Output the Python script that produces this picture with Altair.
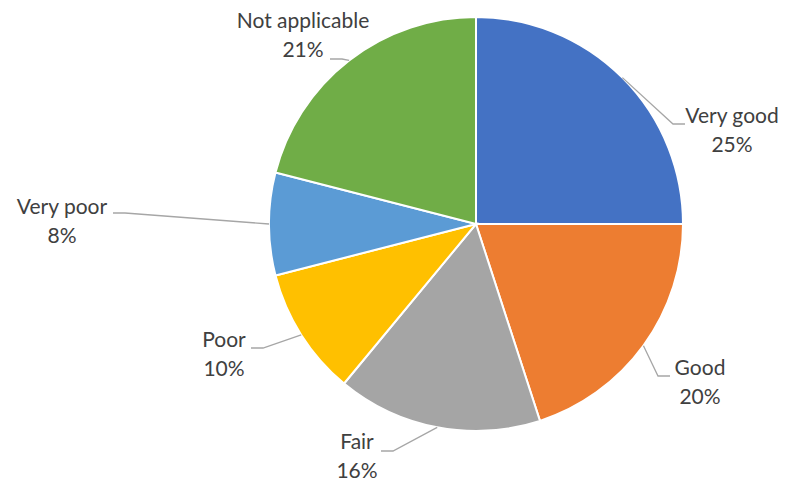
import altair as alt
import pandas as pd
import numpy as np

categories = ["Very good", "Good", "Fair", "Poor", "Very poor", "Not applicable"]
values = [25, 20, 16, 10, 8, 21]
colors = ["#4472C4", "#ED7D31", "#A5A5A5", "#FFC000", "#5B9BD5", "#70AD47"]

# layout (pixel offsets from pie centre, y up) for leader elbows and labels
elbow_x = [197, 182, -83, -213, -351, -134]
elbow_y = [100, -152, -227, -124, 11, 165]
end_x = [209, 194, -95, -225, -363, -146]
end_y = [100, -152, -227, -124, 11, 165]
label_x = [256, 224, -119, -252, -414, -173]
label_y = [107, -145, -219, -117, 16, 202]  # first text line

R = 207
W, H = 774, 474
CX, CY = 468, 216  # pie centre in plot pixels

total = sum(values)
pie = pd.DataFrame({"cat": categories, "val": values, "idx": range(len(values))})

# leader lines
rows = []
cum = 0
for i, (c, v) in enumerate(zip(categories, values)):
    mid = (cum + v / 2) / total * 2 * np.pi
    cum += v
    ax, ay = R * np.sin(mid), R * np.cos(mid)
    rows.append({"cat": c, "o": 0, "x": ax, "y": ay})
    rows.append({"cat": c, "o": 1, "x": elbow_x[i], "y": elbow_y[i]})
    rows.append({"cat": c, "o": 2, "x": end_x[i], "y": end_y[i]})
lines = pd.DataFrame(rows)

labels = pd.DataFrame({
    "txt": [f"{c}\n{v}%" for c, v in zip(categories, values)],
    "x": label_x, "y": label_y,
})

xs = alt.Scale(domain=[-CX, W - CX], nice=False, zero=False)
ys = alt.Scale(domain=[CY - H, CY], nice=False, zero=False)

arc = alt.Chart(pie).mark_arc(radius=R, stroke="white", strokeWidth=2).encode(
    theta=alt.Theta("val:Q", stack=True),
    order=alt.Order("idx:Q"),
    color=alt.Color("cat:N", scale=alt.Scale(domain=categories, range=colors), legend=None),
    x=alt.datum(0, scale=xs, axis=None),
    y=alt.datum(0, scale=ys, axis=None),
)

lead = alt.Chart(lines).mark_line(color="#A6A6A6", strokeWidth=1.3).encode(
    x=alt.X("x:Q", scale=xs, axis=None),
    y=alt.Y("y:Q", scale=ys, axis=None),
    detail="cat:N",
    order="o:Q",
)

txt = alt.Chart(labels).mark_text(
    lineBreak="\n", lineHeight=29, font="Lato", fontSize=21,
    color="#404040", align="center", baseline="middle",
).encode(
    x=alt.X("x:Q", scale=xs, axis=None),
    y=alt.Y("y:Q", scale=ys, axis=None),
    text="txt:N",
)

chart = alt.layer(arc, lead, txt).properties(
    width=W, height=H, autosize=alt.AutoSizeParams(type="none"), padding=0,
    view=alt.ViewBackground(stroke="white", strokeWidth=0),
).configure_view(stroke="white", strokeWidth=0).configure(background="white")

chart.save("out.html", embed_options={"renderer": "svg", "actions": False})
